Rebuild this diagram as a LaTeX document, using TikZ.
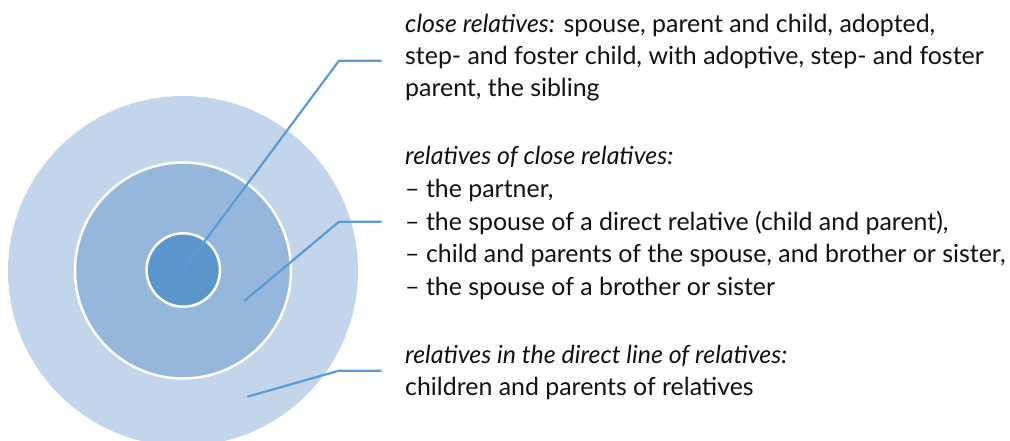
\documentclass[tikz,border=0pt]{standalone}
\usepackage{fontspec}
\setmainfont{Lato}
\definecolor{ringout}{HTML}{C3D5EA}
\definecolor{ringmid}{HTML}{95B7DC}
\definecolor{ringin}{HTML}{5A96CB}
\definecolor{leader}{HTML}{5B9BD5}
\definecolor{txt}{HTML}{111111}
\tikzset{
  lbl/.style={anchor=base west, inner sep=0pt, font=\fontsize{24.9}{32}\selectfont, text=txt},
  leadline/.style={draw=leader, line width=2.2pt},
}
\begin{document}
\begin{tikzpicture}[x=1pt,y=-1pt]
\useasboundingbox (0,0) rectangle (1010,441);
\begin{scope}
\clip (0,0) rectangle (1010,441);
\fill[ringout] (183,271) circle (175);
\draw[fill=ringmid, draw=white, line width=2.5pt] (183,270.5) circle (108);
\draw[fill=ringin, draw=white, line width=2.5pt] (183.3,270) circle (36.7);
\end{scope}
% texts
\node[lbl] (a1) at (405,33) {\textit{close relatives:} spouse, parent and child, adopted,};
\node[lbl] (a2) at (405,65) {step- and foster child, with adoptive, step- and foster};
\node[lbl] (a3) at (405,97) {parent, the sibling};
\node[lbl] (b1) at (405,165) {\textit{relatives of close relatives:}};
\node[lbl] (b2) at (405,197.5) {– the partner,};
\node[lbl] (b3) at (405,230) {– the spouse of a direct relative (child and parent),};
\node[lbl] (b4) at (405,262.5) {– child and parents of the spouse, and brother or sister,};
\node[lbl] (b5) at (405,295) {– the spouse of a brother or sister};
\node[lbl] (c1) at (405,363) {\textit{relatives in the direct line of relatives:}};
\node[lbl] (c2) at (405,395) {children and parents of relatives};
% leader lines
\coordinate (p1) at (183.3,270);
\coordinate (k1) at (339,60.7);
\coordinate (e1) at (381.7,60.7);
\coordinate (p2) at (244.3,301);
\coordinate (k2) at (339,221.7);
\coordinate (e2) at (381.7,221.7);
\coordinate (p3) at (247.3,396.7);
\coordinate (k3) at (339,370.7);
\coordinate (e3) at (381.7,370.7);
\draw[leadline] (p1) -- (k1) -- (e1);
\draw[leadline] (p2) -- (k2) -- (e2);
\draw[leadline] (p3) -- (k3) -- (e3);
\end{tikzpicture}
\end{document}
